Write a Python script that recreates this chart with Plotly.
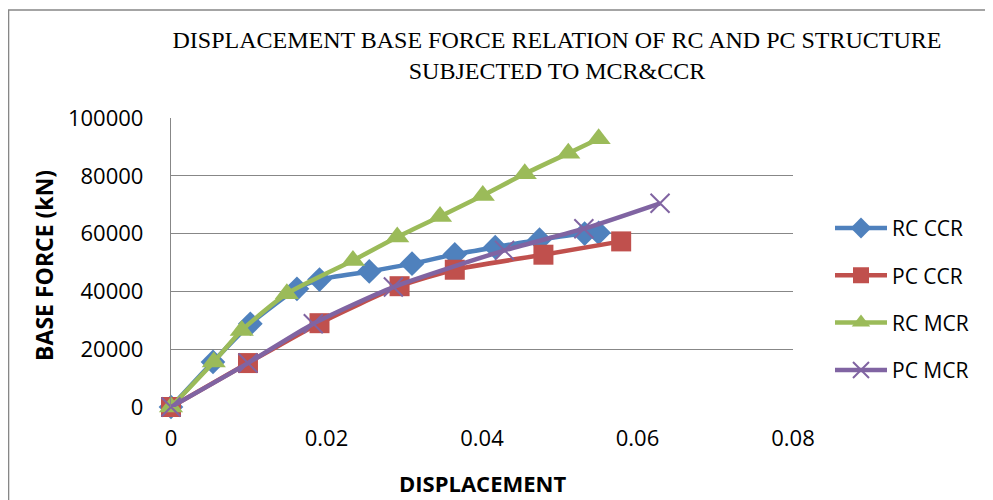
import plotly.graph_objects as go

# ---- data ----
rc_ccr_x = [0, 0.0054, 0.0102, 0.0162, 0.0191, 0.0255, 0.0310, 0.0365, 0.0417, 0.0474, 0.0532, 0.0550]
rc_ccr_y = [0, 15600, 28800, 40900, 44100, 46900, 49600, 52800, 55300, 57900, 60000, 60300]

pc_ccr_x = [0, 0.0099, 0.0191, 0.0294, 0.0365, 0.0479, 0.0579]
pc_ccr_y = [0, 15200, 29000, 41800, 47500, 52700, 57300]

rc_mcr_x = [0, 0.0055, 0.0091, 0.0149, 0.0234, 0.0291, 0.0346, 0.0401, 0.0455, 0.0511, 0.0550]
rc_mcr_y = [0, 15600, 26500, 39200, 50700, 58800, 65900, 73200, 80700, 87800, 92800]

pc_mcr_x = [0, 0.0099, 0.0183, 0.0286, 0.0429, 0.0531, 0.0629]
pc_mcr_y = [0, 15200, 28800, 41500, 54200, 61700, 70500]

series_names = ["RC CCR", "PC CCR", "RC MCR", "PC MCR"]
x_ticks = [0, 0.02, 0.04, 0.06, 0.08]
y_ticks = [0, 20000, 40000, 60000, 80000, 100000]

title_text = "DISPLACEMENT BASE FORCE RELATION OF RC AND PC STRUCTURE<br>SUBJECTED TO MCR&CCR"
x_title = "DISPLACEMENT"
y_title = "BASE FORCE (kN)"

# ---- styling ----
colors = ["#4F81BD", "#C0504D", "#9BBB59", "#8064A2"]
symbols = ["diamond", "square", "triangle-up", "x-thin"]
sizes = [19, 20, 21, 19]
FONT = "Open Sans"

OFF = 8  # page body margin offset
W, H = 993 - OFF, 500 - OFF
L, R = 171 - OFF, 793 - OFF
T, B = 117.5 - OFF, 406.7 - OFF

fig = go.Figure()
data = [(rc_ccr_x, rc_ccr_y), (pc_ccr_x, pc_ccr_y), (rc_mcr_x, rc_mcr_y), (pc_mcr_x, pc_mcr_y)]
for i, (xs, ys) in enumerate(data):
    marker = dict(symbol=symbols[i], size=sizes[i], color=colors[i])
    if symbols[i] == "x-thin":
        marker["line"] = dict(color=colors[i], width=2)
    fig.add_trace(go.Scatter(
        x=xs, y=ys, name=series_names[i], mode="lines+markers",
        line=dict(color=colors[i], width=4.5, shape="spline", smoothing=0.6),
        marker=marker, cliponaxis=False, legendgroup=str(i),
    ))

# screen-pixel -> paper helpers (screen coords of the reference)
def px2paper_x(px):
    return (px - OFF - L) / (R - L)

def px2paper_y(py):
    return (B - (py - OFF)) / (B - T)

fig.update_layout(
    width=W, height=H,
    margin=dict(l=L, r=W - R, t=T, b=H - B, pad=0, autoexpand=False),
    paper_bgcolor="white", plot_bgcolor="white",
    showlegend=True,
    title=dict(text=title_text, x=(557 - OFF) / W, xref="container", xanchor="center",
               y=1 - 40 / H, yref="container", yanchor="top",
               font=dict(family="Liberation Serif", size=24, color="black")),
    legend=dict(x=px2paper_x(830), y=px2paper_y(299), xanchor="left", yanchor="middle",
                font=dict(family=FONT, size=21, color="black"),
                tracegroupgap=17, bgcolor="rgba(0,0,0,0)", itemwidth=52),
    xaxis=dict(range=[0, 0.08], tickvals=x_ticks, ticktext=[str(v) for v in x_ticks],
               showgrid=False, zeroline=False, showline=False, ticks="",
               ticklabelstandoff=16,
               tickfont=dict(family=FONT, size=22, color="black")),
    yaxis=dict(range=[0, 100000], tickvals=y_ticks, tickformat="d",
               showgrid=True, gridcolor="#878787", gridwidth=1.4,
               zeroline=False, showline=True, linecolor="#878787", linewidth=1.4,
               ticks="", ticklabelstandoff=22,
               tickfont=dict(family=FONT, size=22, color="black")),
    annotations=[
        dict(text="<b>" + x_title + "</b>", x=0.5, y=px2paper_y(483), xref="paper", yref="paper",
             xanchor="center", yanchor="middle", showarrow=False,
             font=dict(family=FONT, size=22, color="black")),
        dict(text="<b>" + y_title + "</b>", x=px2paper_x(44), y=px2paper_y(264.5), xref="paper", yref="paper",
             xanchor="center", yanchor="middle", showarrow=False, textangle=-90,
             font=dict(family=FONT, size=23, color="black")),
    ],
    shapes=[
        dict(type="rect", xref="paper", yref="paper",
             x0=px2paper_x(8.5), x1=px2paper_x(1010), y0=px2paper_y(520), y1=px2paper_y(9.5),
             line=dict(color="#878787", width=1.6), fillcolor="rgba(0,0,0,0)", layer="below"),
    ],
)

fig.write_html("out.html")
